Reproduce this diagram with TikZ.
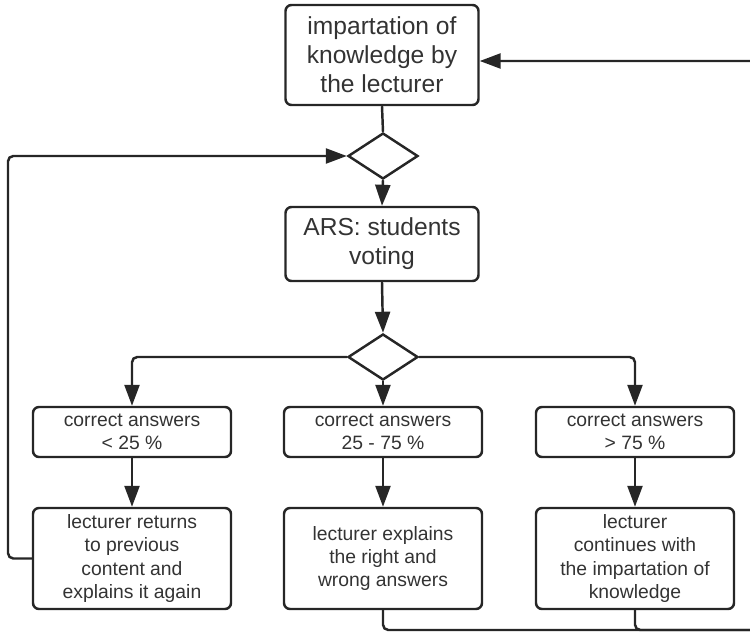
\documentclass[tikz,border=0pt]{standalone}
\usepackage{fontspec}
\setmainfont{Liberation Sans}
\usetikzlibrary{arrows.meta,shapes.geometric,calc}

\begin{document}
\begin{tikzpicture}[x=1cm,y=1cm,
box/.style={draw=black!85,line width=1.4pt,rounded corners=.12cm,align=center,inner sep=2pt,text=black!80},
bigbox/.style={box,minimum width=3.86cm,font=\fontsize{14}{16.5}\selectfont},
smallbox/.style={box,minimum width=3.96cm,font=\fontsize{11}{13.2}\selectfont},
decide/.style={draw=black!85,line width=1.4pt,diamond,minimum width=1.4cm,minimum height=.92cm,inner sep=0pt},
arr/.style={-{Triangle[length=.42cm,width=.3cm]},line width=1.4pt,draw=black!85,rounded corners=3pt},
plain/.style={line width=1.4pt,draw=black!85,rounded corners=3pt}]

\useasboundingbox (0,0) rectangle (15,12.66);
\clip (0,0) rectangle (15,12.66);

\node[bigbox,minimum height=2cm](top)at(7.64,11.56){impartation of\\knowledge by\\the lecturer};
\node[decide](d1)at(7.66,9.54){};
\node[bigbox,minimum height=1.48cm](ars)at(7.64,7.78){ARS: students\\voting};
\node[decide](d2)at(7.66,5.52){};

\node[smallbox,minimum height=1cm](c1)at(2.64,4.02){correct answers\\{< 25 \%}};
\node[smallbox,minimum height=1cm](c2)at(7.66,4.02){correct answers\\25 - 75 \%};
\node[smallbox,minimum height=1cm](c3)at(12.70,4.02){correct answers\\{> 75 \%}};

\node[smallbox,minimum height=2.02cm](r1)at(2.64,1.49){lecturer returns\\to previous\\content and\\explains it again};
\node[smallbox,minimum height=2.02cm](r2)at(7.66,1.49){lecturer explains\\the right and\\wrong answers};
\node[smallbox,minimum height=2.02cm](r3)at(12.70,1.49){lecturer\\continues with\\the impartation of\\knowledge};

\coordinate (lft) at (0.16,1.49);
\coordinate (low) at (15.4,0.06);
\coordinate (ret) at (15.4,11.44);

\draw[plain](top.south)--(d1.north);
\draw[arr](d1.south)--(ars.north);
\draw[arr](ars.south)--(d2.north);
\draw[arr](d2.west)-|(c1.north);
\draw[arr](d2.south)--(c2.north);
\draw[arr](d2.east)-|(c3.north);
\draw[arr](c1)--(r1);
\draw[arr](c2)--(r2);
\draw[arr](c3)--(r3);

% loops back
\draw[arr](r1.west)--(lft)|-(d1.west);
\draw[arr](r2.south)|-(low)--(ret)--(ret-|top.east);
\draw[plain](r3.south)|-(low);
\end{tikzpicture}
\end{document}
